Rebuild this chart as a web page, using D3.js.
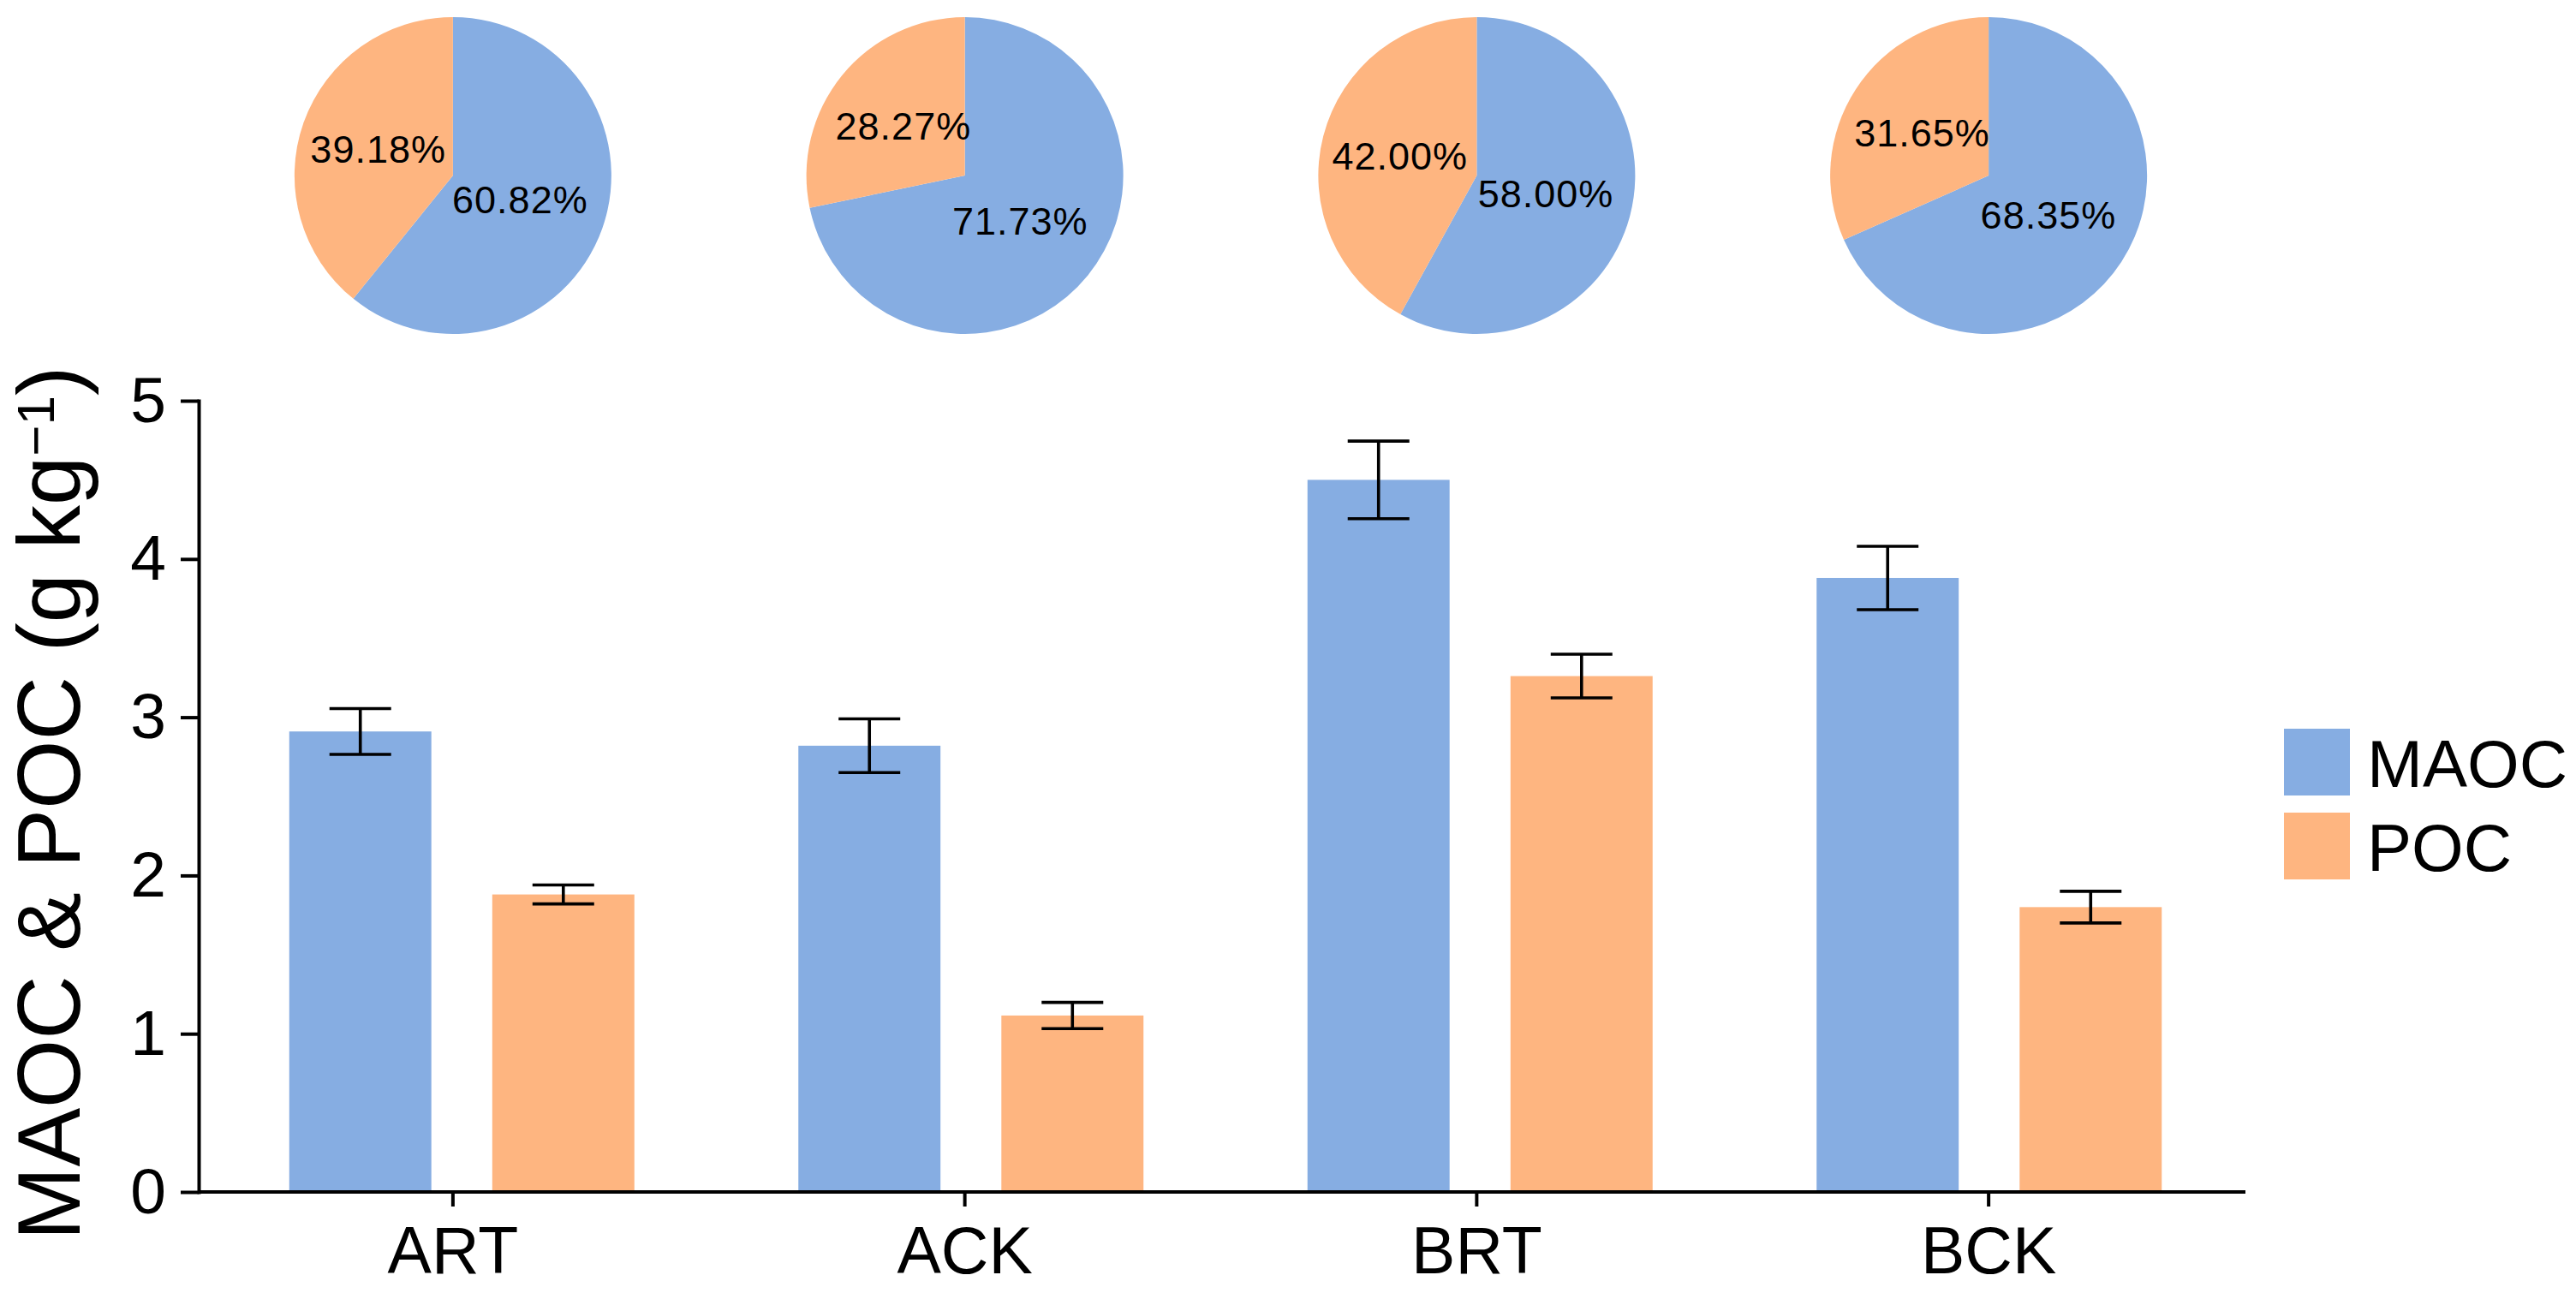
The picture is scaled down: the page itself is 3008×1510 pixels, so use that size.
<!DOCTYPE html>
<html>
<head>
<meta charset="utf-8">
<script src="https://cdn.jsdelivr.net/npm/d3@7"></script>
<style>
  html, body { margin: 0; padding: 0; background: #ffffff; }
  svg { display: block; }
  text { font-family: "Liberation Sans", Arial, "Helvetica", sans-serif; fill: #000; }
</style>
</head>
<body>
<svg id="chart" width="3008" height="1510"></svg>
<script>
// ---------------- data ----------------
const categories = ["ART", "ACK", "BRT", "BCK"];
const seriesNames = ["MAOC", "POC"];
const maocMean = [2.91, 2.82, 4.50, 3.88];
const maocErr  = [0.145, 0.17, 0.245, 0.20];
const pocMean  = [1.88, 1.115, 3.26, 1.80];
const pocErr   = [0.06, 0.083, 0.138, 0.10];
const maocPct  = [60.82, 71.73, 58.00, 68.35];
const pocPct   = [39.18, 28.27, 42.00, 31.65];
const yTicks   = [0, 1, 2, 3, 4, 5];
const seriesColors = ["#86ADE2", "#FEB580"];

// ---------------- setup ----------------
const W = 3008, H = 1510;
const svg = d3.select("#chart");
svg.append("rect").attr("width", W).attr("height", H).attr("fill", "#fff");

const axisLeftX = 232;
const y = d3.scaleLinear().domain([0, 5]).range([1392, 468]);
const xAxisScale = d3.scaleBand().domain(categories).range([230, 2621]).padding(0);
const xBar = d3.scaleBand().domain(categories).range([242, 2620]).padding(0);
const xInner = d3.scaleBand().domain(seriesNames).range([-201.5, 201.5]).paddingInner(0.3);
const color = d3.scaleOrdinal().domain(seriesNames).range(seriesColors);

const barData = [];
categories.forEach((c, i) => {
  barData.push({cat: c, s: "MAOC", v: maocMean[i], e: maocErr[i]});
  barData.push({cat: c, s: "POC", v: pocMean[i], e: pocErr[i]});
});

// ---------------- bars ----------------
const barX = d => xBar(d.cat) + xBar.bandwidth() / 2 + xInner(d.s);
svg.append("g").selectAll("rect").data(barData).join("rect")
  .attr("x", barX)
  .attr("width", xInner.bandwidth())
  .attr("y", d => y(d.v))
  .attr("height", d => y(0) - y(d.v))
  .attr("fill", d => color(d.s));

// ---------------- error bars ----------------
const capW = 72;
const eg = svg.append("g").attr("stroke", "#000").attr("stroke-width", 3.6).attr("fill", "none");
barData.forEach(d => {
  const cx = barX(d) + xInner.bandwidth() / 2;
  eg.append("line").attr("x1", cx).attr("x2", cx).attr("y1", y(d.v + d.e)).attr("y2", y(d.v - d.e));
  eg.append("line").attr("x1", cx - capW / 2).attr("x2", cx + capW / 2).attr("y1", y(d.v + d.e)).attr("y2", y(d.v + d.e));
  eg.append("line").attr("x1", cx - capW / 2).attr("x2", cx + capW / 2).attr("y1", y(d.v - d.e)).attr("y2", y(d.v - d.e));
});

// ---------------- axes ----------------
const yAxis = d3.axisLeft(y).tickValues(yTicks).tickFormat(d3.format("d"))
  .tickSize(21).tickSizeOuter(0).tickPadding(17);
const gy = svg.append("g").attr("transform", `translate(${axisLeftX},0)`).call(yAxis);
gy.selectAll("line").attr("stroke", "#000").attr("stroke-width", 4);
gy.select(".domain").attr("stroke", "#000").attr("stroke-width", 4).attr("stroke-linecap", "square");
gy.selectAll("text").attr("font-size", 75).attr("font-family", "Liberation Sans, Arial, sans-serif").attr("fill", "#000");

const xAxis = d3.axisBottom(xAxisScale).tickSize(17).tickSizeOuter(0).tickPadding(23);
const gx = svg.append("g").attr("transform", `translate(0,${y(0)})`).call(xAxis);
gx.select(".domain").remove();
gx.append("line").attr("x1", axisLeftX).attr("x2", 2622).attr("y1", 0).attr("y2", 0)
  .attr("stroke", "#000").attr("stroke-width", 4);
gx.selectAll(".tick line").attr("stroke", "#000").attr("stroke-width", 4);
gx.selectAll("text").attr("font-size", 77).attr("font-family", "Liberation Sans, Arial, sans-serif").attr("fill", "#000");

// ---------------- y-axis title ----------------
const yTitle = svg.append("text")
  .attr("transform", "translate(93,938) rotate(-90)")
  .attr("text-anchor", "middle")
  .attr("font-size", 103);
yTitle.append("tspan").text("MAOC & POC (g kg");
yTitle.append("tspan").attr("font-size", 62).attr("dy", -30).text("\u22121");
yTitle.append("tspan").attr("dy", 30).text(")");

// ---------------- pies ----------------
const pieR = 185, pieCY = 205;
const pie = d3.pie().sort(null).value(d => d.p);
const arc = d3.arc().innerRadius(0).outerRadius(pieR);
const labelFactor = {MAOC: 0.45, POC: 0.5};

categories.forEach((c, i) => {
  const slices = [{s: "MAOC", p: maocPct[i]}, {s: "POC", p: pocPct[i]}];
  const cx = xAxisScale(c) + xAxisScale.bandwidth() / 2;
  const g = svg.append("g").attr("transform", `translate(${cx},${pieCY})`);
  const arcs = pie(slices);
  g.selectAll("path").data(arcs).join("path")
    .attr("d", arc)
    .attr("fill", d => color(d.data.s));
  g.selectAll("text").data(arcs).join("text")
    .attr("transform", d => {
      const rr = pieR * labelFactor[d.data.s];
      return `translate(${d3.arc().innerRadius(rr).outerRadius(rr).centroid(d)})`;
    })
    .attr("text-anchor", "middle")
    .attr("dy", "0.36em")
    .attr("font-size", 45)
    .attr("letter-spacing", 1)
    .text(d => d.data.p.toFixed(2) + "%");
});

// ---------------- legend ----------------
const lg = svg.append("g");
seriesNames.forEach((s, i) => {
  lg.append("rect").attr("x", 2667).attr("y", 851 + i * 98).attr("width", 77).attr("height", 78)
    .attr("fill", color(s));
  lg.append("text").attr("x", 2764).attr("y", 919 + i * 98).attr("font-size", 78).text(s);
});
</script>
</body>
</html>
